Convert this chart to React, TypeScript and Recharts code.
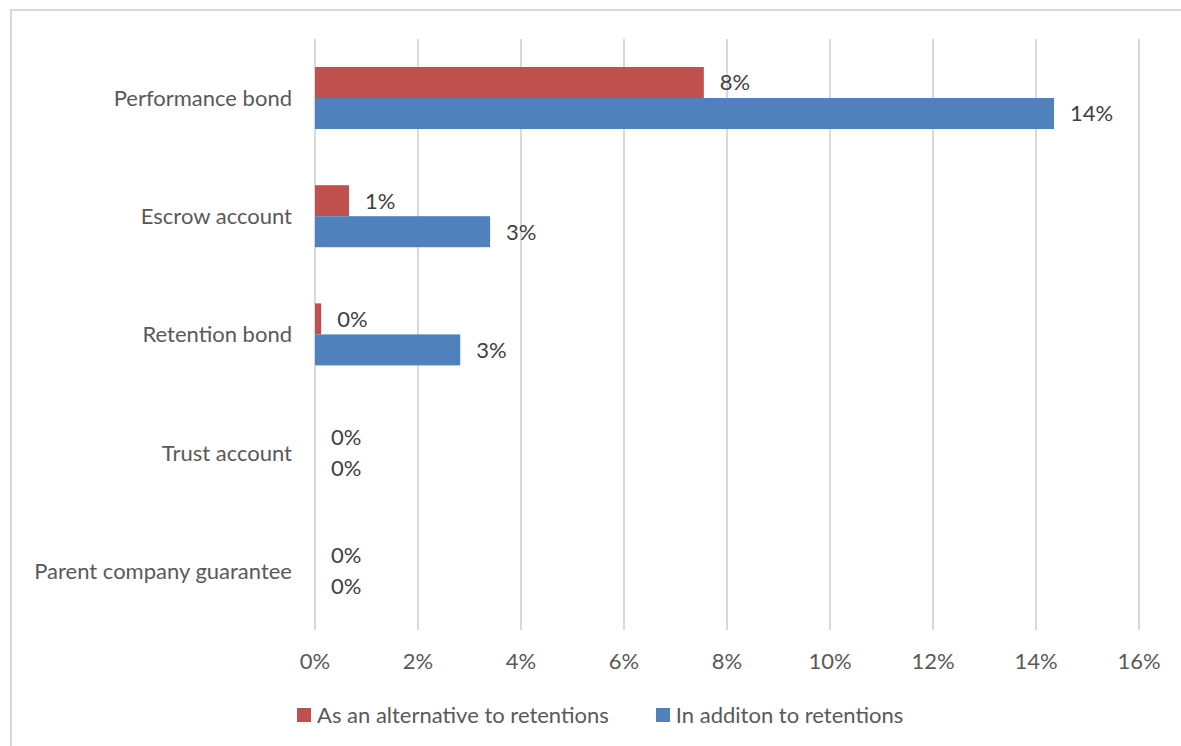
import { BarChart, Bar, XAxis, YAxis, CartesianGrid } from "recharts";

const categories = [
  "Performance bond",
  "Escrow account",
  "Retention bond",
  "Trust account",
  "Parent company guarantee",
];
const alternative = [7.55, 0.66, 0.12, 0, 0];
const addition = [14.35, 3.4, 2.82, 0, 0];
const xTicks = [0, 2, 4, 6, 8, 10, 12, 14, 16];

const RED = "#c0504d";
const BLUE = "#4f81bd";
const FONT = "Lato, 'Open Sans', sans-serif";
const FS = 22;

const data = categories.map((name, i) => ({
  name,
  alt: alternative[i],
  add: addition[i],
}));

// bar + its data label; drawn as a shape so zero-length bars still get "0%"
const barWithLabel = (fill: string) => (props: any) => {
  const { x, y, width, height, value } = props;
  const v = Array.isArray(value) ? value[1] - value[0] : value;
  const w = Math.max(0, width || 0);
  return (
    <g>
      {w > 0 && <rect x={x} y={y} width={w} height={height} fill={fill} />}
      <text
        x={x + w + 16}
        y={y + height / 2}
        dy="0.36em"
        textAnchor="start"
        fill="#404040"
        fontSize={FS}
        fontFamily={FONT}
      >
        {`${Math.round(Number(v))}%`}
      </text>
    </g>
  );
};

const App = () => {
  return (
    <div
      style={{
        position: "fixed",
        left: 0,
        top: 0,
        width: 1181,
        height: 746,
        overflow: "hidden",
        background: "#fff",
        fontFamily: FONT,
      }}
    >
      <div
        style={{
          position: "absolute",
          left: 10,
          top: 9,
          width: 1220,
          height: 800,
          border: "2px solid #d9d9d9",
        }}
      />
      <div style={{ position: "absolute", left: 0, top: 0 }}>
        <BarChart
          width={1181}
          height={746}
          data={data}
          layout="vertical"
          barGap={0}
          barSize={31}
          margin={{ top: 39, right: 42, left: 10, bottom: 0 }}
        >
          <CartesianGrid horizontal={false} stroke="#d9d9d9" strokeWidth={2} />
          <XAxis
            type="number"
            domain={[0, 16]}
            ticks={xTicks}
            tickFormatter={(v) => `${v}%`}
            axisLine={false}
            tickLine={false}
            tickMargin={17}
            height={116}
            interval={0}
            tick={{ fill: "#595959", fontSize: FS, fontFamily: FONT }}
          />
          <YAxis
            type="category"
            dataKey="name"
            width={305}
            axisLine={false}
            tickLine={false}
            tickMargin={17}
            interval={0}
            tick={{ fill: "#595959", fontSize: FS, fontFamily: FONT }}
          />
          <Bar
            dataKey="alt"
            fill={RED}
            isAnimationActive={false}
            shape={barWithLabel(RED)}
          />
          <Bar
            dataKey="add"
            fill={BLUE}
            isAnimationActive={false}
            shape={barWithLabel(BLUE)}
          />
        </BarChart>
      </div>
      <div
        style={{
          position: "absolute",
          left: 297,
          top: 702,
          display: "flex",
          alignItems: "center",
          fontSize: FS,
          color: "#595959",
          lineHeight: "26px",
        }}
      >
        <span style={{ width: 14, height: 14, background: RED, marginRight: 6 }} />
        <span style={{ marginRight: 47 }}>As an alternative to retentions</span>
        <span style={{ width: 14, height: 14, background: BLUE, marginRight: 6 }} />
        <span>In additon to retentions</span>
      </div>
    </div>
  );
};

export default App;
